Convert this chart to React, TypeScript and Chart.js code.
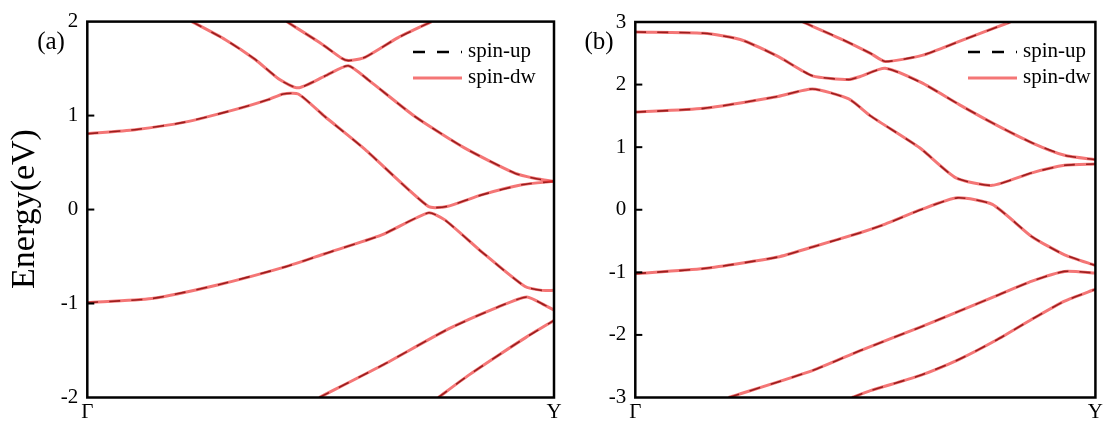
import React, { useEffect, useRef } from 'react';
import { Chart, registerables } from 'chart.js';

Chart.register(...registerables);

type P = [number, number];

// k-path labels (x in fractions of Γ→Y)
const X_LABELS = ['Γ', 'Y'];
const SERIES_NAMES = ['spin-up', 'spin-dw'];

// Panel (a) bands, energy in eV
const A_BAND1: P[] = [[0.752, -2.0], [0.815, -1.77], [0.881, -1.55], [0.94, -1.36], [1, -1.18]];
const A_BAND2: P[] = [[0.497, -2.0], [0.631, -1.66], [0.774, -1.27], [0.881, -1.035], [0.942, -0.93], [0.981, -1.02], [1, -1.07]];
const A_BAND3: P[] = [[0, -0.99], [0.138, -0.947], [0.281, -0.8], [0.424, -0.61], [0.509, -0.47], [0.631, -0.27], [0.731, -0.035], [0.766, -0.11], [0.845, -0.45], [0.938, -0.82], [0.974, -0.86], [1, -0.86]];
const A_BAND4: P[] = [[0, 0.807], [0.102, 0.85], [0.209, 0.93], [0.316, 1.063], [0.388, 1.17], [0.42, 1.23], [0.452, 1.23], [0.509, 0.99], [0.595, 0.64], [0.731, 0.032], [0.77, 0.032], [0.845, 0.156], [0.931, 0.263], [1, 0.3]];
const A_BAND5: P[] = [[0.224, 2.0], [0.295, 1.81], [0.359, 1.6], [0.413, 1.38], [0.452, 1.295], [0.509, 1.42], [0.559, 1.53], [0.602, 1.38], [0.702, 0.99], [0.809, 0.654], [0.916, 0.387], [0.96, 0.33], [1, 0.3]];
const A_BAND6: P[] = [[0.427, 2.0], [0.5, 1.77], [0.545, 1.61], [0.56, 1.585], [0.595, 1.62], [0.666, 1.83], [0.738, 2.0]];

// Panel (b) bands, energy in eV
const B_BAND1: P[] = [[0.471, -3.0], [0.511, -2.89], [0.618, -2.65], [0.704, -2.39], [0.783, -2.09], [0.862, -1.75], [0.933, -1.46], [1, -1.27]];
const B_BAND2: P[] = [[0.203, -3.0], [0.385, -2.57], [0.489, -2.25], [0.618, -1.88], [0.704, -1.62], [0.783, -1.38], [0.862, -1.14], [0.933, -0.985], [1, -1.01]];
const B_BAND3: P[] = [[0, -1.02], [0.149, -0.94], [0.31, -0.755], [0.385, -0.595], [0.489, -0.367], [0.543, -0.23], [0.622, 0.005], [0.7, 0.19], [0.776, 0.085], [0.862, -0.43], [0.933, -0.72], [1, -0.89]];
const B_BAND4: P[] = [[0, 1.56], [0.149, 1.62], [0.31, 1.81], [0.385, 1.93], [0.464, 1.77], [0.511, 1.5], [0.618, 0.99], [0.697, 0.51], [0.776, 0.39], [0.862, 0.59], [0.933, 0.71], [1, 0.73]];
const B_BAND5: P[] = [[0, 2.84], [0.149, 2.82], [0.228, 2.72], [0.31, 2.45], [0.385, 2.14], [0.464, 2.08], [0.489, 2.13], [0.543, 2.26], [0.622, 2.03], [0.704, 1.68], [0.783, 1.36], [0.862, 1.07], [0.933, 0.87], [1, 0.8]];
const B_BAND6: P[] = [[0.364, 3.0], [0.45, 2.72], [0.511, 2.5], [0.543, 2.37], [0.625, 2.47], [0.704, 2.69], [0.815, 3.0]];

const A_BANDS = [A_BAND1, A_BAND2, A_BAND3, A_BAND4, A_BAND5, A_BAND6];
const B_BANDS = [B_BAND1, B_BAND2, B_BAND3, B_BAND4, B_BAND5, B_BAND6];

const A_RANGE = [-2, 2];
const B_RANGE = [-3, 3];

const SERIF = '"Liberation Serif", "Times New Roman", serif';
const RED = 'rgba(238, 45, 45, 0.65)';
const BLACK = '#000000';

interface PanelCfg {
  bands: P[][];
  range: number[];
  width: number;
  left: number;
  right: number;
  top: number;
  bottom: number;
  tag: string;
  tagX: number;
  legendX: number;
  yTitle: boolean;
}

function makeDecor(cfg: PanelCfg) {
  return {
    id: 'decor',
    afterDraw(chart: any) {
      const ctx: CanvasRenderingContext2D = chart.ctx;
      const area = chart.chartArea;
      const ys = chart.scales.y;
      ctx.save();
      ctx.strokeStyle = BLACK;
      ctx.lineWidth = 2;
      ctx.setLineDash([]);
      for (const t of ys.ticks) {
        if (t.value === cfg.range[0] || t.value === cfg.range[1]) continue;
        const y = ys.getPixelForValue(t.value);
        ctx.beginPath();
        ctx.moveTo(area.left, y);
        ctx.lineTo(area.left + 7, y);
        ctx.stroke();
      }
      ctx.lineWidth = 2.5;
      ctx.strokeRect(area.left, area.top, area.right - area.left, area.bottom - area.top);

      const lx = cfg.legendX;
      ctx.lineWidth = 2.5;
      ctx.strokeStyle = BLACK;
      ctx.setLineDash([12, 12]);
      ctx.beginPath();
      ctx.moveTo(lx, 52);
      ctx.lineTo(lx + 49, 52);
      ctx.stroke();
      ctx.setLineDash([]);
      ctx.strokeStyle = RED;
      ctx.lineWidth = 3;
      ctx.beginPath();
      ctx.moveTo(lx, 78);
      ctx.lineTo(lx + 49, 78);
      ctx.stroke();
      ctx.fillStyle = BLACK;
      ctx.font = `21px ${SERIF}`;
      ctx.textAlign = 'left';
      ctx.textBaseline = 'middle';
      ctx.fillText(SERIES_NAMES[0], lx + 55, 51);
      ctx.fillText(SERIES_NAMES[1], lx + 55, 77);

      ctx.font = `25px ${SERIF}`;
      ctx.textAlign = 'center';
      ctx.fillText(cfg.tag, cfg.tagX, 42);

      if (cfg.yTitle) {
        ctx.translate(25, 209);
        ctx.rotate(-Math.PI / 2);
        ctx.font = `34px ${SERIF}`;
        ctx.textAlign = 'center';
        ctx.textBaseline = 'middle';
        ctx.fillText('Energy(eV)', 0, 0);
      }
      ctx.restore();
    },
  };
}

function Panel({ cfg, x }: { cfg: PanelCfg; x: number }) {
  const ref = useRef<HTMLCanvasElement | null>(null);
  useEffect(() => {
    if (!ref.current) return;
    const datasets: any[] = [];
    cfg.bands.forEach((band, i) => {
      const pts = band.map(([bx, by]) => ({ x: bx, y: by }));
      datasets.push({
        label: SERIES_NAMES[0] + i,
        data: pts,
        borderColor: BLACK,
        borderWidth: 1.6,
        borderDash: [11, 11],
        pointRadius: 0,
        tension: 0.2,
        fill: false,
        order: 2,
      });
      datasets.push({
        label: SERIES_NAMES[1] + i,
        data: pts,
        borderColor: RED,
        borderWidth: 3,
        pointRadius: 0,
        tension: 0.2,
        fill: false,
        order: 1,
      });
    });
    const chart = new Chart(ref.current, {
      type: 'line',
      data: { datasets },
      options: {
        animation: false,
        responsive: false,
        devicePixelRatio: 1,
        layout: {
          padding: { left: 0, right: cfg.width - cfg.right, top: cfg.top, bottom: 0 },
        },
        plugins: { legend: { display: false }, tooltip: { enabled: false } },
        scales: {
          x: {
            type: 'linear',
            min: 0,
            max: 1,
            grid: { display: false, drawTicks: false },
            border: { display: false },
            afterBuildTicks: (s: any) => {
              s.ticks = [{ value: 0 }, { value: 1 }];
            },
            afterFit: (s: any) => {
              s.height = 421 - cfg.bottom;
            },
            ticks: {
              padding: 2,
              autoSkip: false,
              maxRotation: 0,
              color: BLACK,
              font: { family: SERIF, size: 21 },
              callback: (v: any) => (v === 0 ? X_LABELS[0] : X_LABELS[1]),
            },
          },
          y: {
            type: 'linear',
            min: cfg.range[0],
            max: cfg.range[1],
            grid: { display: false, drawTicks: false },
            border: { display: false },
            afterFit: (s: any) => {
              s.width = cfg.left;
            },
            ticks: {
              stepSize: 1,
              padding: 9,
              color: BLACK,
              font: { family: SERIF, size: 21 },
            },
          },
        },
      } as any,
      plugins: [makeDecor(cfg)],
    });
    return () => chart.destroy();
  }, [cfg]);
  return (
    <canvas
      ref={ref}
      width={cfg.width}
      height={421}
      style={{ position: 'absolute', left: x, top: 0, width: cfg.width, height: 421 }}
    />
  );
}

const CFG_A: PanelCfg = {
  bands: A_BANDS,
  range: A_RANGE,
  width: 580,
  left: 87.3,
  right: 554,
  top: 21.5,
  bottom: 397.5,
  tag: '(a)',
  tagX: 51,
  legendX: 413,
  yTitle: true,
};

const CFG_B: PanelCfg = {
  bands: B_BANDS,
  range: B_RANGE,
  width: 525,
  left: 55.3,
  right: 520.7,
  top: 22,
  bottom: 397.5,
  tag: '(b)',
  tagX: 19,
  legendX: 388,
  yTitle: false,
};

export default function App() {
  return (
    <div style={{ position: 'absolute', left: 0, top: 0, width: 1105, height: 421, background: '#fff', overflow: 'hidden' }}>
      <Panel cfg={CFG_A} x={0} />
      <Panel cfg={CFG_B} x={580} />
    </div>
  );
}
